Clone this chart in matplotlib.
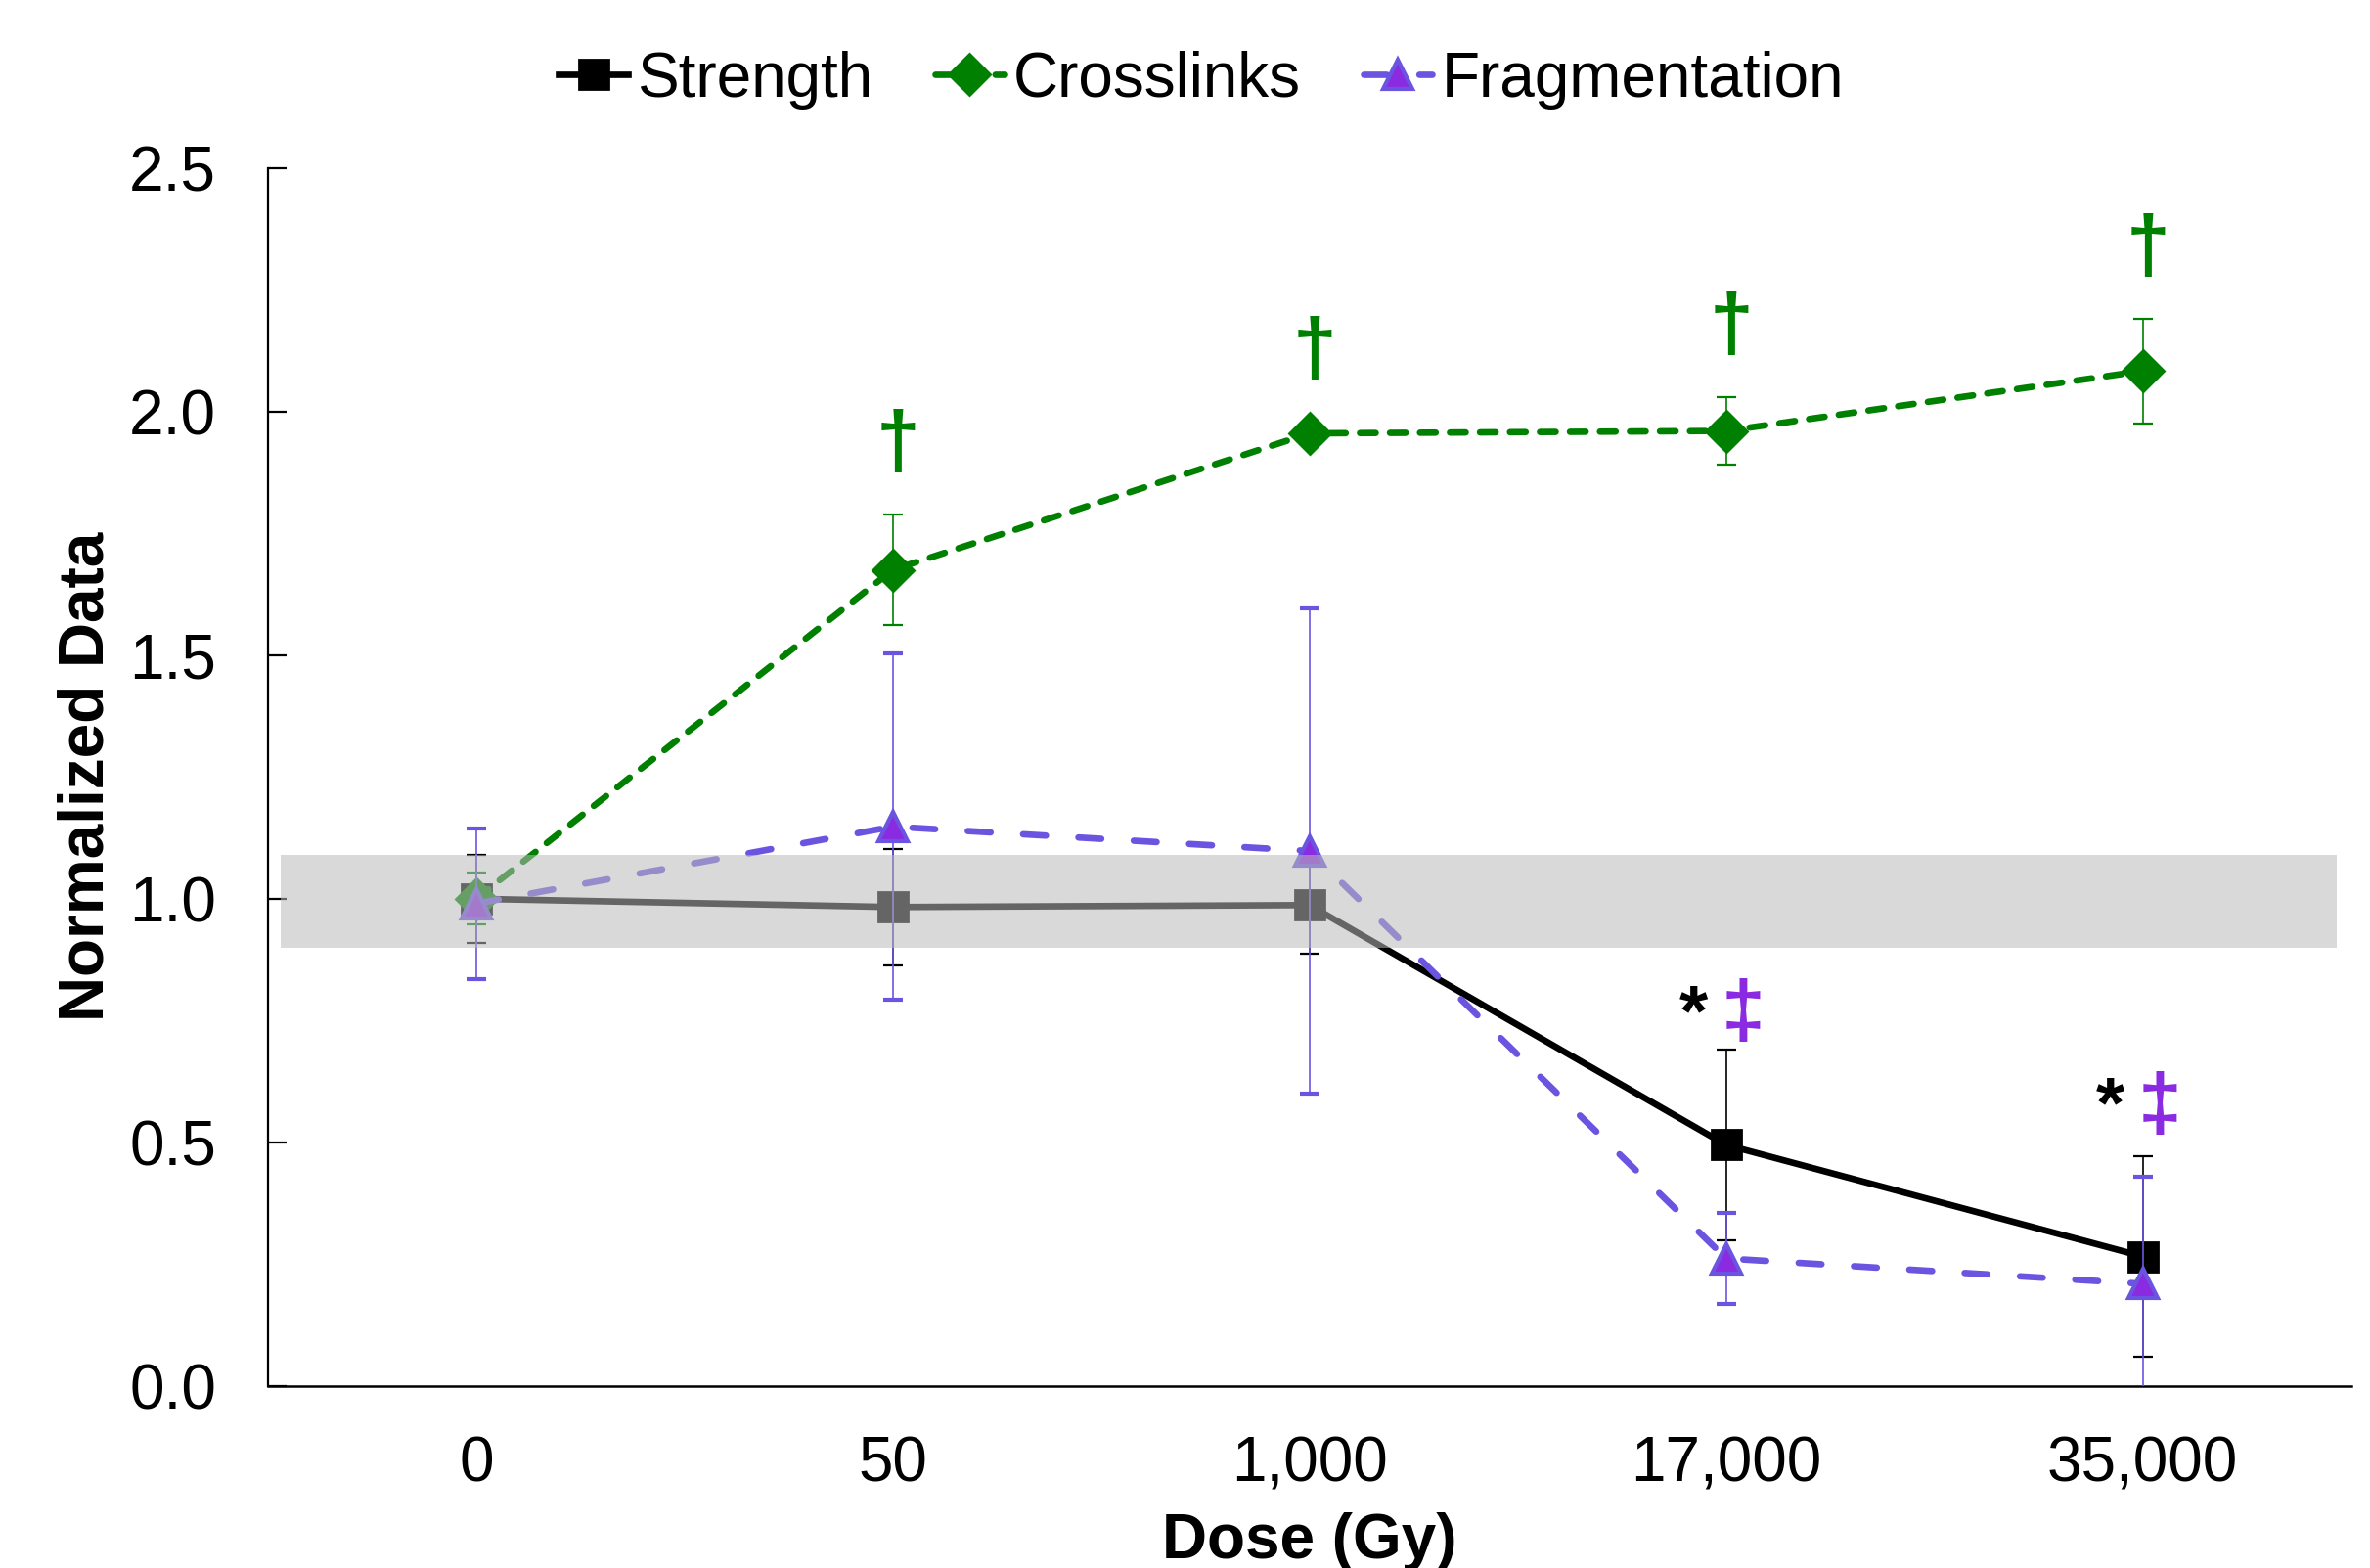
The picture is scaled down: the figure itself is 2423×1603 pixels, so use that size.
import numpy as np
import matplotlib.pyplot as plt

plt.rcParams['font.family'] = ['Liberation Sans', 'DejaVu Sans']

doses = ["0", "50", "1,000", "17,000", "35,000"]

strength = [1.00, 0.983, 0.987, 0.495, 0.266]
strength_err = [0.09, 0.12, 0.10, 0.195, 0.205]

crosslinks = [1.00, 1.675, 1.955, 1.96, 2.083]
crosslinks_err = [0.053, 0.113, 0.02, 0.07, 0.107]

fragmentation = [0.99, 1.148, 1.098, 0.262, 0.21]
fragmentation_err = [0.155, 0.355, 0.497, 0.094, 0.22]

# significance marks
dagger_idx = [1, 2, 3, 4]
dagger_y = [1.93, 2.12, 2.17, 2.33]
star_idx = [3, 4]
star_y = [0.76, 0.57]

# control band (strength at 0 Gy, +/- sd)
band_lo, band_hi = 0.9, 1.09

GREEN = "#008000"
SLATE = "#6B55E0"
VIOLET = "#8A2BE2"
FS = 23

x = np.arange(len(doses))

fig = plt.figure(figsize=(12.115, 8.015), dpi=200)
ax = fig.add_axes([0.113, 0.116, 0.879, 0.777])

ax.errorbar(x, strength, yerr=strength_err, color="black", lw=2.4,
            marker="s", ms=10.5, mec="black", mfc="black",
            ecolor="black", elinewidth=0.6, capsize=3.5, capthick=0.8,
            label="Strength", zorder=3)

ax.errorbar(x, crosslinks, yerr=crosslinks_err, color=GREEN, lw=2.4,
            ls=(0, (2.4, 2.2)), dash_capstyle="round",
            marker="D", ms=10.5, mec=GREEN, mfc=GREEN,
            ecolor=GREEN, elinewidth=0.6, capsize=3.5, capthick=0.8,
            label="Crosslinks", zorder=4)

ax.errorbar(x, fragmentation, yerr=fragmentation_err, color=SLATE, lw=2.4,
            ls=(0, (3.5, 5.0)), dash_capstyle="round",
            marker="^", ms=11, mec=SLATE, mfc=VIOLET, mew=1.5,
            ecolor=SLATE, elinewidth=0.6, capsize=3.5, capthick=0.8,
            label="Fragmentation", zorder=5)

# semi-transparent gray band laid over the lines
ax.axhspan(band_lo, band_hi, xmin=0.006, xmax=0.993,
           color=(0.729, 0.729, 0.729), alpha=0.55, lw=0, zorder=10)

for i, yy in zip(dagger_idx, dagger_y):
    ax.text(i + 0.012, yy, "\u2020", color=GREEN, fontsize=29,
            fontweight="bold", ha="center", va="center", zorder=11)

for i, yy in zip(star_idx, star_y):
    ax.text(i - 0.078, yy, "*", color="black", fontsize=27,
            fontweight="bold", ha="center", va="center", zorder=11)
    ax.text(i + 0.042, yy, "\u2021", color=VIOLET, fontsize=29,
            fontweight="bold", ha="center", va="center", zorder=11)

ax.set_xlim(-0.5, 4.5)
ax.set_ylim(0, 2.5)
ax.set_xticks(x)
ax.set_xticklabels(doses)
ax.set_yticks(np.arange(0, 2.51, 0.5))
ax.set_yticklabels([f"{v:.1f}" for v in np.arange(0, 2.51, 0.5)])

ax.tick_params(axis="x", length=0, pad=18, labelsize=FS)
ax.tick_params(axis="y", direction="in", length=7, width=0.8, pad=19,
               labelsize=FS)

for s in ["top", "right"]:
    ax.spines[s].set_visible(False)
ax.spines["left"].set_linewidth(0.8)
ax.spines["bottom"].set_linewidth(0.9)

ax.set_xlabel("Dose (Gy)", fontsize=FS, fontweight="bold", labelpad=7)
ax.set_ylabel("Normalized Data", fontsize=FS, fontweight="bold", labelpad=5)

handles, labels = ax.get_legend_handles_labels()
handles = [h[0] for h in handles]  # line + marker only, no error bars
fig.legend(handles, labels, loc="center", bbox_to_anchor=(0.507, 0.949),
           ncol=3, frameon=False, fontsize=FS, handlelength=1.1,
           handletextpad=0.15, columnspacing=1.0, numpoints=1)

fig.savefig("out.png", dpi=200)
